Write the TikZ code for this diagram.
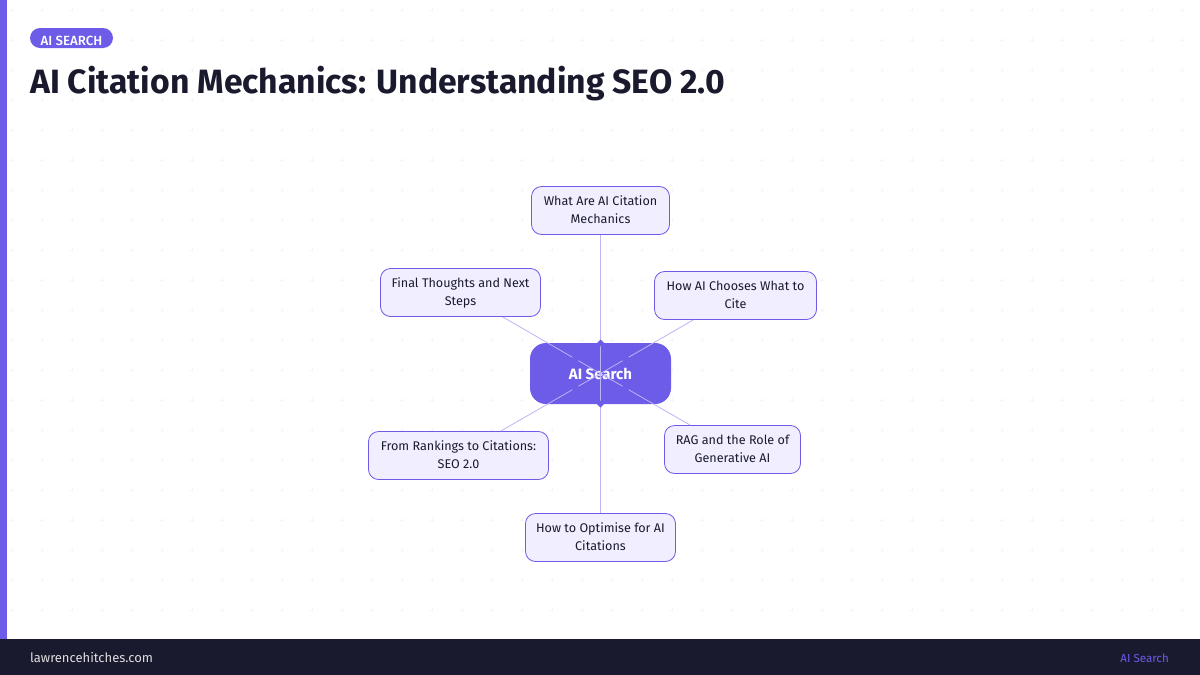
\documentclass[tikz,border=0pt]{standalone}
\usepackage{fontspec}
\setmainfont{Fira Sans}
\newfontfamily\medf{Fira Sans Medium}
\definecolor{accent}{HTML}{6C5CE7}
\definecolor{ink}{HTML}{1A1A2E}
\definecolor{soft}{HTML}{F0EEFF}
\definecolor{edgec}{HTML}{BCB5F6}
\definecolor{dotc}{HTML}{F5F5F8}
\tikzset{
  topic/.style={draw=accent,line width=.8pt,fill=soft,rounded corners=10pt,inner sep=0pt,align=center,text=ink,font=\fontsize{12.6}{18}\selectfont,text depth=1pt},
  hub/.style={fill=accent,rounded corners=16pt,inner sep=0pt,text=white,font=\fontsize{15}{18}\selectfont\bfseries,minimum width=141pt,minimum height=61pt,text height=12pt,text depth=0pt},
  link/.style={draw=edgec,line width=.8pt},
  gapped/.style={link,dash pattern=on 25.5pt off 7pt on 400pt},
  tick/.style={fill=accent},
  plain/.style={inner sep=0pt,anchor=base west}
}
\begin{document}
\begin{tikzpicture}[x=1pt,y=-1pt]
\useasboundingbox (0,0) rectangle (1200,675);
\fill[white] (0,0) rectangle (1200,675);
\foreach \i in {0,...,39}{\foreach \j in {0,...,20}{
  \draw[dotc,line width=.8pt] ({12+30*\i-2},{10+30*\j}) -- ++(4,0) ({12+30*\i},{10+30*\j-2}) -- ++(0,4);
}}
\fill[accent] (0,0) rectangle (7,639);
\fill[ink] (0,639) rectangle (1200,675);
\node[fill=accent,rounded corners=10pt,minimum width=83pt,minimum height=20pt,inner sep=0pt,text=white,font=\medf\fontsize{13.3}{14}\selectfont,text height=15pt,text depth=0pt] (badge) at (71.5,38) {AI SEARCH};
\node[plain,text=ink,font=\fontsize{33.7}{40}\selectfont\bfseries] (title) at (30,93) {AI Citation Mechanics: Understanding SEO 2.0};
\node[plain,text=white!85!ink,font=\fontsize{13}{16}\selectfont] (site) at (30,662) {lawrencehitches.com};
\node[inner sep=0pt,anchor=base east,text=accent,font=\fontsize{11.6}{16}\selectfont] (tag) at (1169,662) {AI Search};

\node[hub] (c) at (600.5,373.5) {AI Search};
\node[topic,minimum width=138pt,minimum height=48pt] (what) at (600.5,210.5) {What Are AI Citation\\Mechanics};
\node[topic,minimum width=160pt,minimum height=48pt] (final) at (460.5,292.5) {Final Thoughts and Next\\Steps};
\node[topic,minimum width=162pt,minimum height=48pt] (choose) at (735.5,295.5) {How AI Chooses What to\\Cite};
\node[topic,minimum width=136pt,minimum height=48pt] (rag) at (732.5,449.5) {RAG and the Role of\\Generative AI};
\node[topic,minimum width=180pt,minimum height=48pt] (rank) at (458.5,455.5) {From Rankings to Citations:\\SEO 2.0};
\node[topic,minimum width=150pt,minimum height=48pt] (opt) at (600.5,537.5) {How to Optimise for AI\\Citations};

\draw[gapped] (c.center) -- (final);
\draw[gapped] (c.center) -- (choose);
\draw[gapped] (c.center) -- (rag);
\draw[gapped] (c.center) -- (rank);
\draw[link] (c.center) -- (what);
\draw[link] (c.center) -- (opt);
\coordinate (tt) at (600.5,343);
\coordinate (tb) at (600.5,404);
\fill[tick] (tt) ++(-3.5,0) -- ++(3.5,-3.5) -- ++(3.5,3.5) -- ++(-3.5,3.5) -- cycle;
\fill[tick] (tb) ++(-3.5,0) -- ++(3.5,-3.5) -- ++(3.5,3.5) -- ++(-3.5,3.5) -- cycle;
\end{tikzpicture}
\end{document}
